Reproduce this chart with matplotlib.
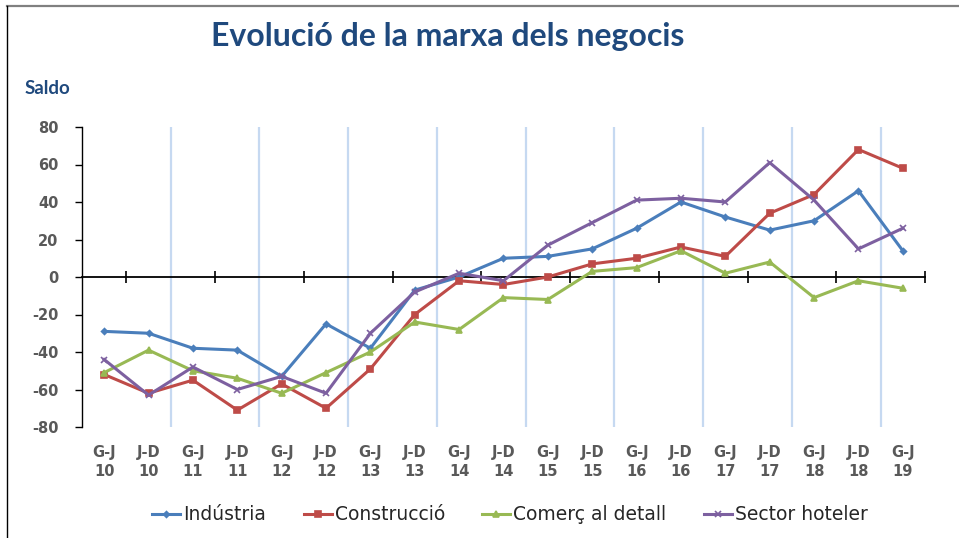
import matplotlib
matplotlib.use("Agg")
import matplotlib.pyplot as plt
from matplotlib.lines import Line2D

periods = ["G-J\n10", "J-D\n10", "G-J\n11", "J-D\n11", "G-J\n12", "J-D\n12", "G-J\n13",
           "J-D\n13", "G-J\n14", "J-D\n14", "G-J\n15", "J-D\n15", "G-J\n16", "J-D\n16",
           "G-J\n17", "J-D\n17", "G-J\n18", "J-D\n18", "G-J\n19"]

industria = [-29, -30, -38, -39, -53, -25, -38, -7, 0, 10, 11, 15, 26, 40, 32, 25, 30, 46, 14]
construccio = [-52, -62, -55, -71, -57, -70, -49, -20, -2, -4, 0, 7, 10, 16, 11, 34, 44, 68, 58]
comerc = [-51, -39, -50, -54, -62, -51, -40, -24, -28, -11, -12, 3, 5, 14, 2, 8, -11, -2, -6]
hoteler = [-44, -63, -48, -60, -53, -62, -30, -8, 2, -2, 17, 29, 41, 42, 40, 61, 41, 15, 26]

series_names = ["Indústria", "Construcció", "Comerç al detall", "Sector hoteler"]
y_ticks = [-80, -60, -40, -20, 0, 20, 40, 60, 80]

fig = plt.figure(figsize=(9.59, 5.38), dpi=100)
W, H = 959, 538
ax = fig.add_axes([82 / W, 1 - 427 / H, (925 - 82) / W, (427 - 127) / H])

x = list(range(len(periods)))
n = len(periods)

# year separators
for k in range(2, n, 2):
    ax.axvline(k - 0.5, color="#C6D9F1", lw=1.6, zorder=1)

styles = [
    ("#4A7EBB", "D", 3.0),
    ("#BE4B48", "s", 4.5),
    ("#98B954", "^", 4.5),
    ("#7D60A0", "x", 5.0),
]
for vals, name, (c, m, ms) in zip([industria, construccio, comerc, hoteler], series_names, styles):
    ax.plot(x, vals, color=c, lw=2.2, marker=m, ms=ms, mew=1.2, label=name, zorder=3)

ax.set_xlim(-0.5, n - 0.5)
ax.set_ylim(-80, 80)

ax.spines["top"].set_visible(False)
ax.spines["right"].set_visible(False)
ax.spines["bottom"].set_position(("data", 0))
ax.spines["bottom"].set_linewidth(1.3)
ax.spines["bottom"].set_zorder(2)
ax.spines["left"].set_linewidth(1.0)

ax.set_xticks([k - 0.5 for k in range(1, n + 1, 2)])
ax.set_xticklabels([])
ax.tick_params(axis="x", direction="inout", length=8, width=1.2, color="black")

ax.set_yticks(y_ticks)
ax.set_yticklabels([str(v) for v in y_ticks])
ax.tick_params(axis="y", direction="out", length=5, width=1.0, pad=12,
               labelsize=10.5, labelcolor="#595959")
for lab in ax.get_yticklabels():
    lab.set_fontweight("bold")

sec = ax.secondary_xaxis(0)
sec.set_xticks(x)
sec.set_xticklabels(periods, fontsize=10.5, fontweight="bold", color="#595959", linespacing=1.35)
sec.tick_params(length=0, pad=13)
sec.spines["bottom"].set_visible(False)

fig.text(448 / W, 1 - 37 / H, "Evolució de la marxa dels negocis", ha="center", va="center",
         fontsize=23, fontweight="bold", color="#1F497D", family=["Lato", "DejaVu Sans"])
fig.text(25 / W, 1 - 88 / H, "Saldo", ha="left", va="center",
         fontsize=13.5, fontweight="bold", color="#1F497D", family=["Lato", "DejaVu Sans"])

fig.legend(loc="center", bbox_to_anchor=(510 / W, 1 - 515 / H), ncol=4, frameon=False,
           fontsize=13.5, handlelength=1.5, handletextpad=0.15, columnspacing=2.0,
           labelcolor="#262626")

# frame of the original picture
fig.add_artist(Line2D([7 / W, 1], [1 - 6 / H, 1 - 6 / H], transform=fig.transFigure,
                      color="#808080", lw=1.6))
fig.add_artist(Line2D([7 / W, 7 / W], [0, 1 - 6 / H], transform=fig.transFigure,
                      color="black", lw=1.0))

fig.savefig("out.png", dpi=100)
